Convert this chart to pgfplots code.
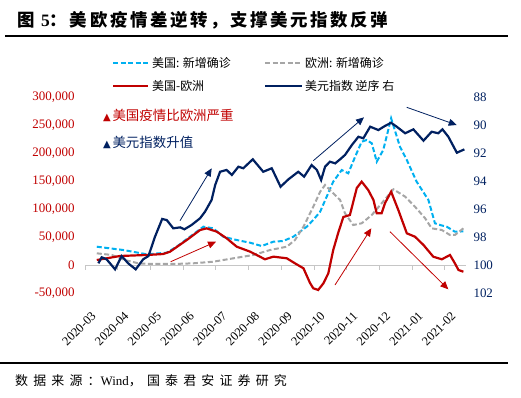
\documentclass[border=0pt]{standalone}
\usepackage{fontspec}
\setmainfont{Liberation Serif}
\newfontfamily\cjk{Noto Sans CJK SC}
\newfontfamily\cjkt{Noto Sans CJK SC}[LetterSpace=15]
\newfontfamily\cjks{Noto Sans CJK SC}[LetterSpace=40]
\newfontfamily\sym{DejaVu Sans}
\usepackage{pgfplots}
\pgfplotsset{compat=1.18}
\usetikzlibrary{arrows.meta}
\definecolor{usc}{RGB}{0,176,240}
\definecolor{euc}{RGB}{166,166,166}
\definecolor{dred}{RGB}{192,0,0}
\definecolor{navy}{RGB}{0,32,96}
\begin{document}
\begin{tikzpicture}[x=1bp,y=1bp]
\useasboundingbox (0,0) rectangle (521,397);
% title
\node[anchor=west, inner sep=0] at (17,377) {\cjkt\bfseries\fontsize{17.5}{17.5}\selectfont 图 {\rmfamily\bfseries 5}：美欧疫情差逆转，支撑美元指数反弹};
\draw[line width=1.2bp] (5,361) -- (508,361);
% legend
\draw[usc, line width=2bp, dash pattern=on 5bp off 2.5bp] (113,334) -- (148,334);
\node[anchor=west, inner sep=0] at (152,334) {\cjk\fontsize{12}{12}\selectfont 美国: 新增确诊};
\draw[euc, line width=2bp, dash pattern=on 5bp off 2.5bp] (265,334) -- (302,334);
\node[anchor=west, inner sep=0] at (305,334) {\cjk\fontsize{12}{12}\selectfont 欧洲: 新增确诊};
\draw[dred, line width=2.2bp] (113,311) -- (148,311);
\node[anchor=west, inner sep=0] at (152,311) {\cjk\fontsize{12}{12}\selectfont 美国-欧洲};
\draw[navy, line width=2.2bp] (265,311) -- (302,311);
\node[anchor=west, inner sep=0] at (305,311) {\cjk\fontsize{12}{12}\selectfont 美元指数 逆序 右};
\begin{axis}[
  scale only axis, width=381bp, height=196bp,
  at={(85bp,104bp)}, anchor=south west,
  xmin=0, xmax=11.65, ymin=-50000, ymax=300000,
  axis line style={draw=none},
  major tick length=0pt,
  xtick={0,...,11},
  xticklabels={2020-03,2020-04,2020-05,2020-06,2020-07,2020-08,2020-09,2020-10,2020-11,2020-12,2021-01,2021-02},
  xticklabel style={rotate=45, anchor=east, font=\fontsize{12.5}{12.5}\selectfont, inner sep=0.5bp, yshift=-21bp, xshift=-8bp},
  ytick={-50000,0,50000,100000,150000,200000,250000,300000},
  scaled y ticks=false,
  yticklabel style={text=dred, font=\fontsize{13}{13}\selectfont, xshift=-7bp, /pgf/number format/.cd, fixed, 1000 sep={,}, assume math mode=true},
  ytick pos=left, xtick pos=bottom,
  clip=false,
]
\draw[gray!45, line width=0.8bp] (axis cs:0,0) -- (axis cs:11.65,0);
\pgfplotsinvokeforeach{0,...,11}{\draw[gray!45, line width=0.8bp] (axis cs:#1,0) -- ++(0pt,-5bp);}
\addplot[usc, line width=2bp, dash pattern=on 5bp off 2.5bp] coordinates {
(0.36,32700)(1.17,26800)(1.89,19100)(2.50,22000)(2.80,32700)(3.21,50500)(3.62,68400)(3.92,65500)
(4.23,50500)(4.64,44600)(5.05,39800)(5.40,33900)(5.76,41600)(6.06,42900)(6.37,50500)(6.78,68400)
(6.98,80400)(7.19,95200)(7.39,122000)(7.59,148800)(7.85,169600)(8.05,163800)(8.26,193400)(8.46,220200)
(8.61,223200)(8.77,217300)(8.92,184500)(9.12,205400)(9.36,262000)(9.63,211300)(9.84,187500)(10.14,148800)
(10.50,116100)(10.70,74500)(10.86,71400)(11.06,68400)(11.31,59500)(11.57,60000)};
\addplot[euc, line width=2bp, dash pattern=on 5bp off 2.5bp] coordinates {
(0.36,20900)(0.82,17900)(1.22,8900)(1.63,3000)(1.99,1800)(2.70,1800)(3.31,3000)(3.92,5900)
(4.54,12000)(5.15,17900)(5.66,26800)(6.17,32700)(6.42,44600)(6.68,68400)(6.98,104100)(7.19,130900)
(7.34,142900)(7.54,130900)(7.80,116100)(7.95,92300)(8.20,71400)(8.46,74500)(8.77,89300)(9.07,110200)
(9.43,135200)(9.79,122000)(10.09,104100)(10.40,83400)(10.60,65500)(10.91,62500)(11.16,53600)(11.31,53600)(11.57,65500)};
\addplot[dred, line width=2.2bp] coordinates {
(0.36,8900)(1.07,16100)(1.89,17900)(2.39,19600)(2.60,23800)(3.11,44600)(3.52,62500)(3.72,65500)
(4.03,59500)(4.33,47700)(4.64,32700)(5.05,23800)(5.35,14900)(5.50,10200)(5.76,14900)(6.17,12000)
(6.42,3000)(6.68,-5900)(6.88,-32100)(6.98,-41600)(7.13,-44600)(7.29,-32700)(7.44,-14800)(7.59,26800)
(7.75,58900)(7.90,85700)(8.10,89300)(8.31,137500)(8.46,148800)(8.66,133900)(8.82,116100)(8.92,92300)
(9.07,92300)(9.17,110200)(9.36,130900)(9.58,98200)(9.84,56600)(10.09,50500)(10.35,35700)(10.65,14800)
(10.91,10200)(11.16,17900)(11.31,3000)(11.42,-8900)(11.57,-12000)};
\end{axis}
\begin{axis}[
  scale only axis, width=381bp, height=196bp,
  at={(85bp,104bp)}, anchor=south west,
  xmin=0, xmax=11.65, ymin=88, ymax=102, y dir=reverse,
  axis line style={draw=none},
  major tick length=0pt,
  axis x line=none, axis y line*=right,
  ytick={88,90,...,102},
  yticklabel style={text=navy, font=\fontsize{13}{13}\selectfont, xshift=4bp, /pgf/number format/assume math mode=true},
  clip=false,
]
\addplot[navy, line width=2.2bp] coordinates {
(0.41,99.88)(0.51,99.45)(0.66,99.59)(0.92,100.31)(1.12,99.36)(1.32,99.88)(1.55,100.31)(1.78,99.59)
(1.94,99.36)(2.14,97.98)(2.36,96.71)(2.50,96.79)(2.70,97.38)(2.91,97.31)(3.04,97.45)(3.26,97.14)
(3.52,96.66)(3.67,96.19)(3.87,95.36)(3.98,94.29)(4.13,93.34)(4.33,93.21)(4.49,93.57)(4.69,92.98)
(4.84,93.09)(5.13,92.45)(5.45,93.34)(5.71,93.09)(5.98,94.41)(6.22,93.88)(6.52,93.34)(6.70,93.69)
(6.93,92.86)(7.09,93.21)(7.22,93.93)(7.34,92.98)(7.49,92.62)(7.65,92.74)(7.80,92.45)(7.95,92.14)
(8.16,91.43)(8.36,90.84)(8.51,90.95)(8.72,90.12)(8.97,90.36)(9.17,90.07)(9.36,89.84)(9.53,90.12)
(9.79,90.59)(10.04,90.31)(10.35,91.12)(10.60,90.48)(10.80,90.59)(10.93,90.31)(11.11,90.84)(11.37,91.98)(11.60,91.74)};
\end{axis}
% annotations
\node[anchor=west, inner sep=0, text=dred] at (103,282) {{\sym\fontsize{10}{10}\selectfont ▲}\,\cjk\fontsize{13.5}{13.5}\selectfont 美国疫情比欧洲严重};
\node[anchor=west, inner sep=0, text=navy] at (103,254.5) {{\sym\fontsize{10}{10}\selectfont ▲}\,\cjk\fontsize{13.5}{13.5}\selectfont 美元指数升值};
\draw[navy, line width=0.8bp, -{Triangle[length=8bp,width=7bp]}] (180,176.3) -- (211.7,228.7);
\draw[dred, line width=0.8bp, -{Triangle[length=8bp,width=7bp]}] (170.7,135.3) -- (216,155.3);
\draw[navy, line width=0.8bp, -{Triangle[length=8bp,width=7bp]}] (313.3,236.3) -- (364,279.7);
\draw[dred, line width=0.8bp, -{Triangle[length=8bp,width=7bp]}] (335,112) -- (371.3,168.7);
\draw[navy, line width=0.8bp, -{Triangle[length=8bp,width=7bp]}] (406.7,289.7) -- (456.7,272);
\draw[dred, line width=0.8bp, -{Triangle[length=8bp,width=7bp]}] (390,165.3) -- (448.3,107.7);
% footer
\draw[line width=1.2bp] (0,34) -- (508,34);
\node[anchor=west, inner sep=0] at (15,16) {\cjks\fontsize{13}{13}\selectfont 数据来源：{\rmfamily Wind}，国泰君安证券研究};
\end{tikzpicture}
\end{document}
